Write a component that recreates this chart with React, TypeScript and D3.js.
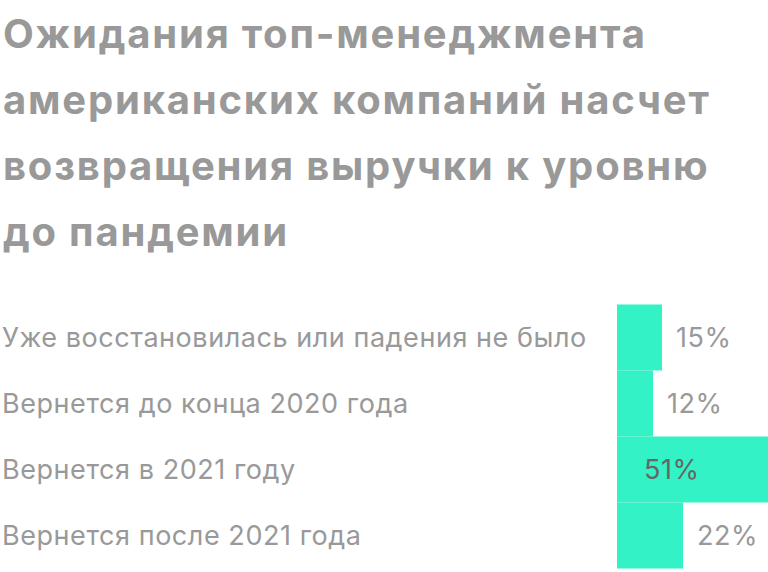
import React from "react";
import * as d3 from "d3";

const titleLines = [
  "Ожидания топ-менеджмента",
  "американских компаний насчет",
  "возвращения выручки к уровню",
  "до пандемии",
];
const categories = [
  "Уже восстановилась или падения не было",
  "Вернется до конца 2020 года",
  "Вернется в 2021 году",
  "Вернется после 2021 года",
];
const values = [15, 12, 51, 22];

const W = 768;
const H = 572;

export default function App() {
  const x = d3.scaleLinear().domain([0, 51]).range([617, 770]);
  const y = d3.scaleBand<string>().domain(categories).range([304.5, 568.5]).padding(0);
  const font = "Inter, 'Noto Sans', sans-serif";
  return (
    <svg width={W} height={H} style={{ position: "absolute", left: 0, top: 0 }}>
      <rect width={W} height={H} fill="#fff" />
      {titleLines.map((t, i) => (
        <text
          key={i}
          x={3}
          y={47.5 + i * 66}
          fontFamily={font}
          fontWeight={700}
          fontSize={40}
          letterSpacing={1.8}
          fill="#999"
        >
          {t}
        </text>
      ))}
      {categories.map((c, i) => {
        const yy = y(c)!;
        const bw = y.bandwidth();
        const inside = x(values[i]) > W;
        return (
          <g key={c}>
            <rect x={x(0)} y={yy} width={x(values[i]) - x(0)} height={bw} fill="#33F2C5" />
            <text x={2} y={yy + bw / 2 + 9.5} fontFamily={font} fontSize={27} letterSpacing={0.55} fill="#999">
              {c}
            </text>
            <text
              x={inside ? x(0) + 27 : x(values[i]) + 14}
              y={yy + bw / 2 + 9.5}
              fontFamily={font}
              fontSize={27}
              letterSpacing={0.5}
              fill={inside ? "#666" : "#999"}
            >
              {values[i]}%
            </text>
          </g>
        );
      })}
    </svg>
  );
}
